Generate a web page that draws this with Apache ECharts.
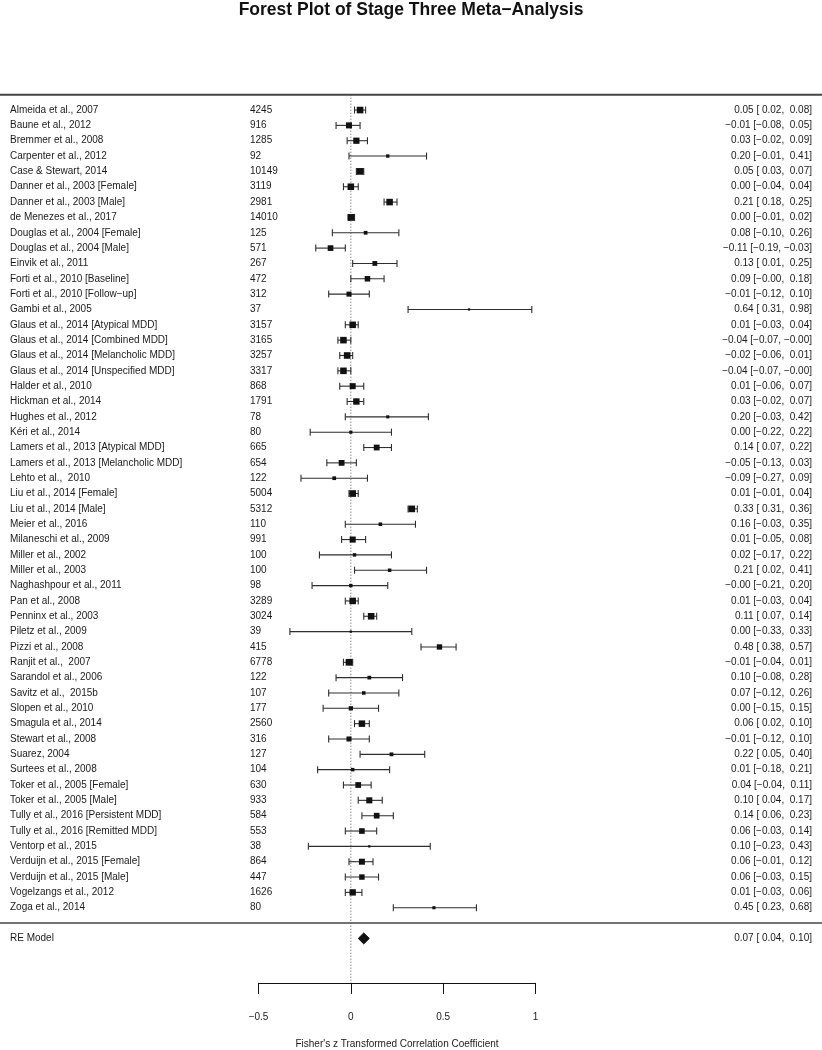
<!DOCTYPE html>
<html><head><meta charset="utf-8">
<script src="https://cdn.jsdelivr.net/npm/echarts@6/dist/echarts.min.js"></script>
<style>html,body{margin:0;padding:0;background:#fff}#c{width:822px;height:1050px}</style>
</head><body><div id="c"></div>
<script>
const chartTitle = 'Forest Plot of Stage Three Meta\u2212Analysis';
const xAxisTitle = "Fisher's z Transformed Correlation Coefficient";

const studyLabels = [
  'Almeida et al., 2007', 'Baune et al., 2012', 'Bremmer et al., 2008', 'Carpenter et al., 2012',
  'Case & Stewart, 2014', 'Danner et al., 2003 [Female]', 'Danner et al., 2003 [Male]',
  'de Menezes et al., 2017', 'Douglas et al., 2004 [Female]', 'Douglas et al., 2004 [Male]',
  'Einvik et al., 2011', 'Forti et al., 2010 [Baseline]', 'Forti et al., 2010 [Follow\u2212up]',
  'Gambi et al., 2005', 'Glaus et al., 2014 [Atypical MDD]', 'Glaus et al., 2014 [Combined MDD]',
  'Glaus et al., 2014 [Melancholic MDD]', 'Glaus et al., 2014 [Unspecified MDD]', 'Halder et al., 2010',
  'Hickman et al., 2014', 'Hughes et al., 2012', 'Kéri et al., 2014', 'Lamers et al., 2013 [Atypical MDD]',
  'Lamers et al., 2013 [Melancholic MDD]', 'Lehto et al.,  2010', 'Liu et al., 2014 [Female]',
  'Liu et al., 2014 [Male]', 'Meier et al., 2016', 'Milaneschi et al., 2009', 'Miller et al., 2002',
  'Miller et al., 2003', 'Naghashpour et al., 2011', 'Pan et al., 2008', 'Penninx et al., 2003',
  'Piletz et al., 2009', 'Pizzi et al., 2008', 'Ranjit et al.,  2007', 'Sarandol et al., 2006',
  'Savitz et al.,  2015b', 'Slopen et al., 2010', 'Smagula et al., 2014', 'Stewart et al., 2008',
  'Suarez, 2004', 'Surtees et al., 2008', 'Toker et al., 2005 [Female]', 'Toker et al., 2005 [Male]',
  'Tully et al., 2016 [Persistent MDD]', 'Tully et al., 2016 [Remitted MDD]', 'Ventorp et al., 2015',
  'Verduijn et al., 2015 [Female]', 'Verduijn et al., 2015 [Male]', 'Vogelzangs et al., 2012',
  'Zoga et al., 2014'
];
const sampleSizes = [
  4245, 916, 1285, 92, 10149, 3119, 2981, 14010, 125, 571,
  267, 472, 312, 37, 3157, 3165, 3257, 3317, 868, 1791,
  78, 80, 665, 654, 122, 5004, 5312, 110, 991, 100,
  100, 98, 3289, 3024, 39, 415, 6778, 122, 107, 177,
  2560, 316, 127, 104, 630, 933, 584, 553, 38, 864,
  447, 1626, 80
];
const estimates = [
  0.05, -0.01, 0.03, 0.20, 0.05, 0.00, 0.21, 0.00, 0.08, -0.11,
  0.13, 0.09, -0.01, 0.64, 0.01, -0.04, -0.02, -0.04, 0.01, 0.03,
  0.20, 0.00, 0.14, -0.05, -0.09, 0.01, 0.33, 0.16, 0.01, 0.02,
  0.21, -0.00, 0.01, 0.11, 0.00, 0.48, -0.01, 0.10, 0.07, 0.00,
  0.06, -0.01, 0.22, 0.01, 0.04, 0.10, 0.14, 0.06, 0.10, 0.06,
  0.06, 0.01, 0.45
];
const ciLower = [
  0.02, -0.08, -0.02, -0.01, 0.03, -0.04, 0.18, -0.01, -0.10, -0.19,
  0.01, -0.00, -0.12, 0.31, -0.03, -0.07, -0.06, -0.07, -0.06, -0.02,
  -0.03, -0.22, 0.07, -0.13, -0.27, -0.01, 0.31, -0.03, -0.05, -0.17,
  0.02, -0.21, -0.03, 0.07, -0.33, 0.38, -0.04, -0.08, -0.12, -0.15,
  0.02, -0.12, 0.05, -0.18, -0.04, 0.04, 0.06, -0.03, -0.23, -0.01,
  -0.03, -0.03, 0.23
];
const ciUpper = [
  0.08, 0.05, 0.09, 0.41, 0.07, 0.04, 0.25, 0.02, 0.26, -0.03,
  0.25, 0.18, 0.10, 0.98, 0.04, -0.00, 0.01, -0.00, 0.07, 0.07,
  0.42, 0.22, 0.22, 0.03, 0.09, 0.04, 0.36, 0.35, 0.08, 0.22,
  0.41, 0.20, 0.04, 0.14, 0.33, 0.57, 0.01, 0.28, 0.26, 0.15,
  0.10, 0.10, 0.40, 0.21, 0.11, 0.17, 0.23, 0.14, 0.43, 0.12,
  0.15, 0.06, 0.68
];
const summaryLabel = 'RE Model';
const summaryEstimate = 0.07;
const summaryLower = 0.04;
const summaryUpper = 0.10;
const xTickLabels = ['\u22120.5', '0', '0.5', '1'];

const K = studyLabels.length;
const FONT = '"Liberation Sans", Arial, Helvetica, sans-serif';
const TXT = '#1a1a1a';
const LINE = '#2e2e2e';
const MINUS = '\u2212';
function fmt(v) {
  const neg = v < 0 || Object.is(v, -0);
  return (neg ? MINUS : ' ') + Math.abs(v).toFixed(2);
}
function ciText(e, l, u) { return fmt(e) + ' [' + fmt(l) + ', ' + fmt(u) + ']'; }

// marker size from random-effects weights (1/(vi + tau^2)), vi = 1/(n-3)
const tau2 = 0.007;
const wts = sampleSizes.map(n => 1 / (1 / (n - 3) + tau2));
const wMin = Math.min(...wts), wMax = Math.max(...wts);
const psize = wts.map(v => 0.5 + (v - wMin) / (wMax - wMin));

const studyRows = studyLabels.map((lab, i) => [estimates[i], K - i, ciLower[i], ciUpper[i], psize[i], i]);

function txt(text, x, y, align) {
  return { type: 'text', style: { text: text, x: x, y: y, align: align, verticalAlign: 'middle',
    fontSize: 10, fontFamily: FONT, fill: TXT } };
}

function renderStudy(params, api) {
  const i = api.value(5);
  const y = api.value(1);
  const pe = api.coord([api.value(0), y]);
  const pl = api.coord([api.value(2), y]);
  const pu = api.coord([api.value(3), y]);
  const s = api.value(4) * 4.5;
  const cap = 3.5;
  const ls = { stroke: LINE, lineWidth: 1.1 };
  return { type: 'group', children: [
    { type: 'line', shape: { x1: pl[0], y1: pe[1], x2: pu[0], y2: pe[1] }, style: ls },
    { type: 'line', shape: { x1: pl[0], y1: pe[1] - cap, x2: pl[0], y2: pe[1] + cap }, style: ls },
    { type: 'line', shape: { x1: pu[0], y1: pe[1] - cap, x2: pu[0], y2: pe[1] + cap }, style: ls },
    { type: 'rect', shape: { x: pe[0] - s / 2, y: pe[1] - s / 2, width: s, height: s }, style: { fill: '#111' } },
    txt(studyLabels[i], 10, pe[1], 'left'),
    txt(String(sampleSizes[i]), 250, pe[1], 'left'),
    txt(ciText(estimates[i], ciLower[i], ciUpper[i]), 812, pe[1], 'right')
  ]};
}

function renderSummary(params, api) {
  const y = api.value(1);
  const pe = api.coord([api.value(0), y]);
  const pl = api.coord([api.value(2), y]);
  const pu = api.coord([api.value(3), y]);
  const h = 5.5;
  return { type: 'group', children: [
    { type: 'polygon', shape: { points: [[pl[0], pe[1]], [pe[0], pe[1] - h], [pu[0], pe[1]], [pe[0], pe[1] + h]] },
      style: { fill: '#111', stroke: '#111', lineWidth: 1 } },
    txt(summaryLabel, 10, pe[1], 'left'),
    txt(ciText(summaryEstimate, summaryLower, summaryUpper), 812, pe[1], 'right')
  ]};
}

function renderSeparator(params, api) {
  const p = api.coord([0, api.value(0)]);
  return { type: 'line', shape: { x1: 0, y1: p[1], x2: api.getWidth(), y2: p[1] },
    style: { stroke: '#444', lineWidth: api.value(1) } };
}

function renderRefLine(params, api) {
  const a = api.coord([api.value(0), api.value(1)]);
  const b = api.coord([api.value(0), api.value(2)]);
  return { type: 'line', shape: { x1: a[0], y1: a[1], x2: b[0], y2: b[1] },
    style: { stroke: '#555', lineWidth: 1, lineDash: [1, 2] } };
}

const Y_TOP = K + 1;      // top separator row
const Y_BOTTOM = -3.9;    // axis position

const chart = echarts.init(document.getElementById('c'), null, { renderer: 'canvas' });
chart.setOption({
  animation: false,
  backgroundColor: '#fff',
  title: { text: chartTitle, left: 'center', top: 0, padding: [1, 5],
    textStyle: { fontFamily: FONT, fontSize: 17.5, fontWeight: 'bold', color: '#111' } },
  grid: { left: 258.5, width: 277, top: 94.7, height: 888.2, containLabel: false, outerBoundsMode: 'none' },
  xAxis: {
    type: 'value', min: -0.5, max: 1, interval: 0.5, position: 'bottom',
    axisLine: { show: true, onZero: false, lineStyle: { color: '#111', width: 1 } },
    axisTick: { show: true, length: 11, lineStyle: { color: '#111', width: 1 } },
    axisLabel: { margin: 29, fontSize: 10, fontFamily: FONT, color: TXT,
      formatter: (v) => xTickLabels[Math.round((v + 0.5) / 0.5)] },
    splitLine: { show: false },
    name: xAxisTitle, nameLocation: 'middle', nameGap: 56,
    nameTextStyle: { fontSize: 10, fontFamily: FONT, color: TXT }
  },
  yAxis: { type: 'value', min: Y_BOTTOM, max: Y_TOP, show: false },
  series: [
    { type: 'custom', name: 'separators', clip: false, renderItem: renderSeparator,
      data: [[Y_TOP, 2], [0, 1.5]] },
    { type: 'custom', name: 'reference', clip: false, renderItem: renderRefLine,
      data: [[0, Y_TOP, Y_BOTTOM]] },
    { type: 'custom', name: 'studies', clip: false, renderItem: renderStudy, data: studyRows },
    { type: 'custom', name: 'summary', clip: false, renderItem: renderSummary,
      data: [[summaryEstimate, -1, summaryLower, summaryUpper]] }
  ]
});
</script></body></html>
